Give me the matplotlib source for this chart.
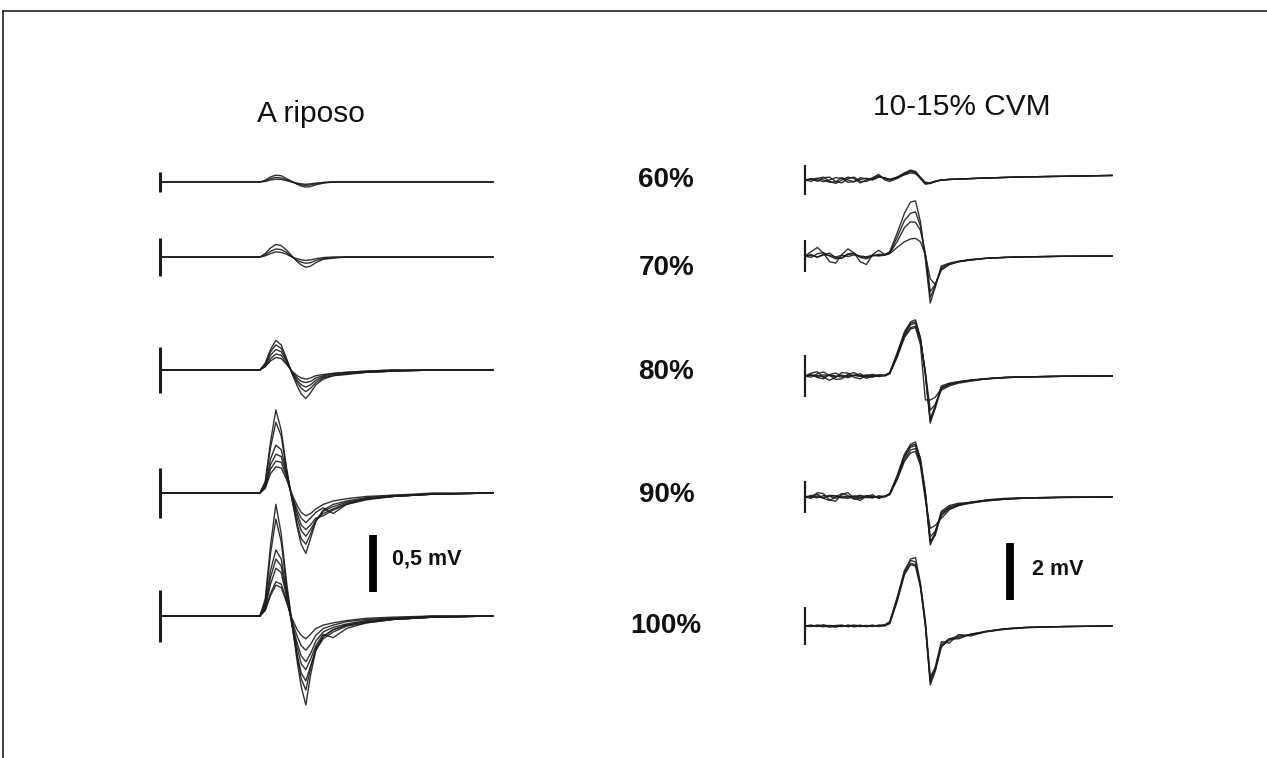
import matplotlib
matplotlib.use("Agg")
import matplotlib.pyplot as plt
from matplotlib.lines import Line2D

plt.rcParams['font.family'] = ['Liberation Sans', 'DejaVu Sans']

# ---------------- data ----------------
# Column titles and row labels (stimulus intensity)
titles = ["A riposo", "10-15% CVM"]
row_labels = ["60%", "70%", "80%", "90%", "100%"]
scale_labels = ["0,5 mV", "2 mV"]
scale_values_mv = [0.5, 2.0]

# time samples (ms after stimulus) for the resting (left) sweeps
t_left = [0, 15.0, 15.8, 16.6, 17.4, 18.2, 19.0, 19.8, 20.6, 21.2, 21.9, 22.6,
          23.4, 24.5, 26, 28, 31, 35, 41, 50]

# MEP sweeps at rest (mV), one list per sweep
left_60 = [
    [0, 0, 0.015, 0.045, 0.06, 0.055, 0.03, 0.005, -0.02, -0.035, -0.045, -0.04, -0.025, -0.01, 0, 0, 0, 0, 0, 0],
    [0, 0, 0.01, 0.03, 0.04, 0.035, 0.02, 0, -0.015, -0.025, -0.03, -0.025, -0.015, -0.005, 0, 0, 0, 0, 0, 0],
    [0, 0, 0.005, 0.018, 0.025, 0.022, 0.012, 0, -0.01, -0.016, -0.02, -0.016, -0.01, -0.004, 0, 0, 0, 0, 0, 0],
]
left_70 = [
    [0, 0, 0.03, 0.08, 0.11, 0.1, 0.06, 0.01, -0.04, -0.07, -0.09, -0.08, -0.05, -0.02, -0.01, 0, 0, 0, 0, 0],
    [0, 0, 0.02, 0.05, 0.07, 0.065, 0.04, 0.0, -0.03, -0.045, -0.055, -0.05, -0.03, -0.015, -0.005, 0, 0, 0, 0, 0],
    [0, 0, 0.01, 0.03, 0.045, 0.04, 0.025, 0.0, -0.015, -0.025, -0.03, -0.025, -0.015, -0.005, 0, 0, 0, 0, 0, 0],
]
left_80 = [
    [0, 0, 0.06, 0.18, 0.26, 0.22, 0.1, -0.03, -0.14, -0.21, -0.25, -0.2, -0.13, -0.08, -0.05, -0.04, -0.02, -0.01, 0, 0],
    [0, 0, 0.05, 0.16, 0.22, 0.19, 0.09, -0.02, -0.11, -0.16, -0.19, -0.16, -0.11, -0.07, -0.05, -0.03, -0.02, -0.01, 0, 0],
    [0, 0, 0.04, 0.13, 0.18, 0.16, 0.08, -0.02, -0.09, -0.13, -0.15, -0.13, -0.09, -0.06, -0.04, -0.03, -0.02, -0.01, 0, 0],
    [0, 0, 0.03, 0.1, 0.14, 0.13, 0.06, -0.01, -0.07, -0.1, -0.11, -0.1, -0.07, -0.05, -0.03, -0.02, -0.01, 0, 0, 0],
    [0, 0, 0.03, 0.08, 0.11, 0.1, 0.05, -0.01, -0.05, -0.07, -0.08, -0.07, -0.05, -0.04, -0.03, -0.02, -0.01, 0, 0, 0],
]
left_90 = [
    [0, 0, 0.1, 0.45, 0.73, 0.55, 0.22, -0.05, -0.3, -0.45, -0.53, -0.4, -0.25, -0.15, -0.1, -0.07, -0.04, -0.02, -0.01, 0],
    [0, 0, 0.09, 0.4, 0.62, 0.5, 0.2, -0.05, -0.27, -0.4, -0.45, -0.36, -0.24, -0.16, -0.12, -0.08, -0.05, -0.03, -0.01, 0],
    [0, 0, 0.07, 0.3, 0.42, 0.38, 0.18, -0.04, -0.22, -0.33, -0.38, -0.32, -0.24, -0.18, -0.14, -0.09, -0.05, -0.03, -0.01, 0],
    [0, 0, 0.06, 0.25, 0.34, 0.32, 0.16, -0.03, -0.18, -0.28, -0.32, -0.28, -0.22, -0.2, -0.15, -0.1, -0.06, -0.03, -0.01, 0],
    [0, 0, 0.05, 0.21, 0.28, 0.27, 0.14, -0.02, -0.15, -0.22, -0.26, -0.22, -0.17, -0.13, -0.18, -0.1, -0.05, -0.03, -0.01, 0],
    [0, 0, 0.04, 0.17, 0.23, 0.22, 0.12, -0.01, -0.11, -0.17, -0.2, -0.18, -0.14, -0.1, -0.07, -0.05, -0.03, -0.02, 0, 0],
]
left_100 = [
    [0, 0, 0.15, 0.62, 0.98, 0.72, 0.3, -0.05, -0.4, -0.62, -0.78, -0.52, -0.3, -0.18, -0.12, -0.08, -0.05, -0.03, -0.01, 0],
    [0, 0, 0.12, 0.55, 0.85, 0.65, 0.26, -0.06, -0.36, -0.55, -0.65, -0.46, -0.28, -0.18, -0.12, -0.08, -0.05, -0.03, -0.01, 0],
    [0, 0, 0.1, 0.4, 0.58, 0.5, 0.22, -0.08, -0.34, -0.5, -0.57, -0.44, -0.3, -0.2, -0.14, -0.09, -0.06, -0.03, -0.01, 0],
    [0, 0, 0.08, 0.34, 0.5, 0.44, 0.2, -0.06, -0.28, -0.42, -0.47, -0.38, -0.26, -0.16, -0.19, -0.11, -0.06, -0.03, -0.01, 0],
    [0, 0, 0.07, 0.28, 0.42, 0.38, 0.17, -0.06, -0.24, -0.35, -0.4, -0.33, -0.22, -0.14, -0.1, -0.07, -0.04, -0.02, -0.01, 0],
    [0, 0, 0.05, 0.2, 0.3, 0.28, 0.14, -0.04, -0.18, -0.26, -0.3, -0.25, -0.17, -0.11, -0.08, -0.05, -0.03, -0.02, 0, 0],
    [0, 0, 0.05, 0.18, 0.27, 0.25, 0.12, -0.02, -0.12, -0.17, -0.2, -0.16, -0.11, -0.08, -0.06, -0.04, -0.02, -0.01, 0, 0],
]

# time samples (ms) for the 10-15% MVC (right) sweeps
t_right = [0, 1, 2, 3, 4, 5, 6, 7, 8, 9, 10, 11, 12, 13, 13.8, 15.0, 16.2, 17.2,
           18.0, 18.8, 19.6, 20.4, 21.2, 22.2, 23.5, 25, 27, 29.5, 32.5, 36, 42, 50]

right_60 = [
    [0, .05, -.05, .08, .1, -.05, -.1, .05, .1, -.05, -.05, .05, .15, .05, .0, .1, .25, .35, .3, .1, -.12, -.1, -.05, 0, .02, .03, .05, .07, .09, .11, .13, .16],
    [0, -.05, .05, .1, -.05, -.12, .0, .1, .05, -.1, .0, .08, .2, .0, -.05, .05, .2, .3, .25, .05, -.15, -.12, -.06, 0, .02, .03, .05, .07, .09, .11, .13, .16],
    [0, .02, .0, -.06, .0, .08, .06, -.08, -.06, .08, .04, .0, .1, .08, .02, .08, .18, .25, .22, .08, -.08, -.1, -.04, .0, .02, .03, .05, .07, .09, .11, .13, .16],
    [0, .03, .06, .0, -.08, -.06, .08, .0, -.06, .02, .06, .02, .12, .06, .02, .1, .22, .32, .28, .06, -.1, -.12, -.05, 0, .02, .03, .05, .07, .09, .11, .13, .16],
]
right_70 = [
    [0, .05, -.05, .05, .1, -.05, -.08, .05, .08, -.03, -.05, .03, .02, .05, .15, .8, 1.5, 1.9, 1.93, 1.2, -.1, -1.65, -1.1, -.35, -.25, -.18, -.12, -.08, -.05, -.03, -.01, 0],
    [0, .15, .3, .1, -.2, -.25, .05, .25, .1, -.2, -.3, .05, .2, .05, .12, .65, 1.25, 1.5, 1.55, 1.05, .0, -1.45, -1.05, -.4, -.28, -.2, -.14, -.08, -.05, -.03, -.01, 0],
    [0, -.05, .08, .12, .0, -.1, -.06, .08, .1, -.05, -.1, .0, .06, .04, .1, .5, 1.0, 1.2, 1.18, .9, .1, -1.25, -1.0, -.45, -.3, -.2, -.14, -.08, -.05, -.03, -.01, 0],
    [0, .02, -.03, .04, .02, -.04, .03, -.02, .04, 0, -.03, .02, 0, .03, .08, .3, .5, .6, .62, .5, .05, -.8, -1.0, -.5, -.3, -.2, -.13, -.08, -.05, -.03, -.01, 0],
]
right_80 = [
    [0, .1, .15, -.05, -.15, -.05, .12, .1, -.05, -.1, .02, .06, .0, .02, .12, .8, 1.55, 1.9, 1.97, 1.35, .05, -1.65, -1.1, -.35, -.25, -.2, -.15, -.1, -.05, -.03, -.01, 0],
    [0, -.04, .08, .14, .02, -.12, -.1, .06, .12, .0, -.08, .0, .04, .02, .1, .75, 1.45, 1.8, 1.85, 1.3, .1, -1.5, -1.05, -.4, -.3, -.22, -.16, -.1, -.06, -.03, -.01, 0],
    [0, .02, -.02, .04, .02, -.03, .03, -.02, .03, .02, -.03, .02, -.02, .03, .1, .7, 1.4, 1.7, 1.75, 1.25, .15, -1.2, -1.0, -.5, -.35, -.25, -.18, -.1, -.06, -.03, -.01, 0],
    [0, .03, .02, -.03, .04, .0, -.04, .03, .02, -.02, .04, -.02, .02, 0, .08, .65, 1.35, 1.65, 1.7, 1.1, -.84, -.84, -.75, -.45, -.3, -.22, -.15, -.1, -.05, -.03, -.01, 0],
    [0, .05, -.05, -.1, .05, .1, .0, -.06, .02, .08, -.03, -.04, .03, .02, .1, .78, 1.5, 1.85, 1.9, 1.32, .08, -1.58, -1.15, -.42, -.28, -.2, -.14, -.09, -.05, -.03, -.01, 0],
]
right_90 = [
    [0, .05, .1, -.05, -.12, .0, .12, .05, -.08, -.05, .05, .03, -.02, .02, .12, .75, 1.5, 1.85, 1.93, 1.3, .1, -1.68, -1.3, -.55, -.35, -.25, -.18, -.12, -.06, -.03, -.01, 0],
    [0, -.05, .15, .12, -.1, -.15, .1, .15, -.05, -.12, .02, .08, -.05, .03, .1, .7, 1.4, 1.75, 1.8, 1.25, .05, -1.6, -1.25, -.5, -.3, -.22, -.2, -.1, -.05, -.03, -.01, 0],
    [0, .02, -.03, .05, .02, -.04, .03, 0, .04, -.03, 0, .02, -.02, .02, .1, .65, 1.3, 1.65, 1.7, 1.2, .15, -1.4, -1.2, -.65, -.4, -.3, -.2, -.14, -.08, -.04, -.01, 0],
    [0, 0, .04, -.02, .03, .05, -.03, .02, -.04, .03, .03, -.02, .04, 0, .08, .6, 1.25, 1.55, 1.6, 1.1, -.1, -1.1, -1.0, -.75, -.45, -.3, -.18, -.12, -.08, -.04, -.02, 0],
    [0, .03, 0, -.03, .06, .03, -.02, -.05, .02, .06, -.02, -.03, .02, .03, .1, .7, 1.45, 1.8, 1.85, 1.35, .2, -1.55, -1.35, -.6, -.38, -.28, -.22, -.13, -.07, -.03, -.01, 0],
]
right_100 = [
    [0, .03, -.02, .04, 0, -.03, .02, -.02, .03, 0, -.02, .02, 0, .02, .1, .9, 1.9, 2.35, 2.4, 1.5, .1, -2.07, -1.6, -.7, -.5, -.4, -.3, -.2, -.1, -.05, -.02, 0],
    [0, -.02, .03, 0, -.04, .02, .03, -.02, 0, .03, -.02, 0, .02, .05, .15, 1.0, 1.95, 2.3, 2.25, 1.4, .0, -1.95, -1.5, -.65, -.45, -.35, -.3, -.18, -.1, -.05, -.02, 0],
    [0, .02, 0, -.03, .02, 0, -.02, .03, -.03, 0, .02, -.02, .03, 0, .12, .95, 1.85, 2.2, 2.15, 1.45, .2, -1.8, -1.45, -.55, -.6, -.3, -.35, -.2, -.12, -.06, -.02, 0],
    [0, 0, .02, .02, -.02, -.03, 0, .02, .02, -.02, 0, .03, -.02, .03, .08, .85, 1.8, 2.15, 2.1, 1.35, .05, -1.9, -1.55, -.75, -.45, -.45, -.28, -.2, -.1, -.05, -.02, 0],
]

left_rows = [left_60, left_70, left_80, left_90, left_100]
right_rows = [right_60, right_70, right_80, right_90, right_100]

# ---------------- layout (pixels of the 1267x758 canvas) ----------------
W, H = 1267, 758
fig = plt.figure(figsize=(W / 100, H / 100), dpi=100)
fig.patch.set_facecolor("white")

def px_axes(t0_px, tend_px, sweep_ms, px_per_mv):
    ax = fig.add_axes([0, 0, 1, 1])
    ax.set_axis_off()
    ax.patch.set_alpha(0)
    px_per_ms = (tend_px - t0_px) / sweep_ms
    ax.set_xlim(-t0_px / px_per_ms, (W - t0_px) / px_per_ms)
    ax.set_ylim(-H / px_per_mv, 0)
    return ax, px_per_mv

colL = dict(t0=160, tend=493, ppmv=114.0,
            base=[182, 257, 370, 493, 616],
            tick=[0.09, 0.17, 0.2, 0.22, 0.23], tick_lw=2.2,
            bar_t=32.0, bar_bottom=592, lab=(392, 565))
colR = dict(t0=805, tend=1112, ppmv=28.5,
            base=[180, 256, 376, 497, 626],
            tick=[0.53, 0.56, 0.74, 0.56, 0.68], tick_lw=1.6,
            bar_t=33.4, bar_bottom=600, lab=(1032, 575))

trace_color = "#1c1c1c"

for col, rows, t, sv, sl in [(colL, left_rows, t_left, scale_values_mv[0], scale_labels[0]),
                             (colR, right_rows, t_right, scale_values_mv[1], scale_labels[1])]:
    ax, ppmv = px_axes(col["t0"], col["tend"], 50.0, col["ppmv"])
    for r, sweeps in enumerate(rows):
        off = -col["base"][r] / ppmv
        for sw in sweeps:
            ax.plot(t, [off + v for v in sw], color=trace_color, lw=1.0,
                    solid_joinstyle="round", alpha=0.9)
        h = col["tick"][r]
        ax.plot([0, 0], [off - h, off + h], color=trace_color, lw=col["tick_lw"],
                solid_capstyle="butt")
    # calibration bar
    yb = -col["bar_bottom"] / ppmv
    ax.plot([col["bar_t"], col["bar_t"]], [yb, yb + sv], color="black", lw=5.6,
            solid_capstyle="butt")
    fig.text(col["lab"][0] / W, 1 - col["lab"][1] / H, sl, fontsize=15.5,
             fontweight="bold", ha="left", va="baseline", color="#111111")

# titles
fig.text(311 / W, 1 - 122 / H, titles[0], fontsize=21.5, ha="center",
         va="baseline", color="#111111")
fig.text(962 / W, 1 - 115 / H, titles[1], fontsize=21.5, ha="center",
         va="baseline", color="#111111")

# row labels (centre column)
label_x = [666, 667, 666, 667, 666]
label_base = [187, 275, 379, 502, 633]
for lab, x, y in zip(row_labels, label_x, label_base):
    fig.text(x / W, 1 - y / H, lab, fontsize=20, fontweight="bold",
             ha="center", va="baseline", color="#111111")

# frame (top and left edges)
fig.add_artist(Line2D([3 / W, 1], [1 - 11 / H, 1 - 11 / H], transform=fig.transFigure,
                      color="#222222", lw=1.2))
fig.add_artist(Line2D([3 / W, 3 / W], [0, 1 - 11 / H], transform=fig.transFigure,
                      color="#222222", lw=1.2))

fig.savefig("out.png", dpi=100, facecolor="white")
